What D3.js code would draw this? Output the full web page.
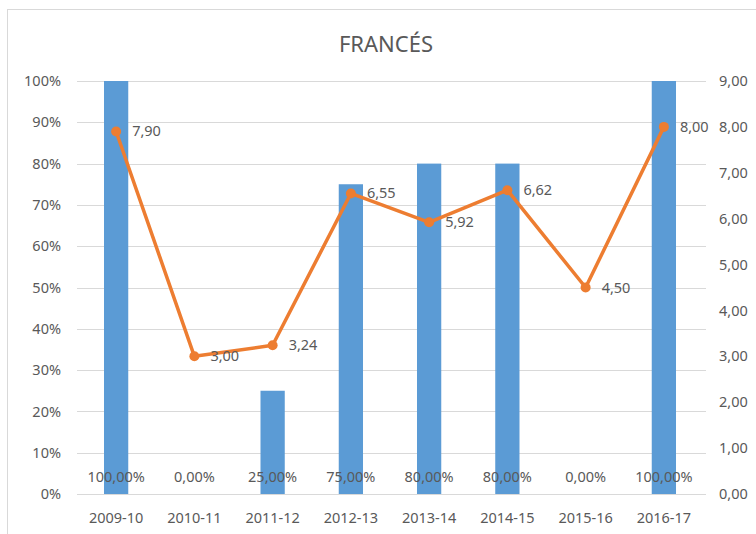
<!DOCTYPE html>
<html><head><meta charset="utf-8">
<script src="https://cdn.jsdelivr.net/npm/d3@7/dist/d3.min.js"></script>
<style>body{margin:0;background:#fff}svg{display:block}text{font-family:"Noto Sans","Open Sans",sans-serif;fill:#595959}</style>
</head><body><svg id="c" width="756" height="534"></svg>
<script>
const categories = ["2009-10","2010-11","2011-12","2012-13","2013-14","2014-15","2015-16","2016-17"];
const barValues = [1.00,0.00,0.25,0.75,0.80,0.80,0.00,1.00];
const lineValues = [7.90,3.00,3.24,6.55,5.92,6.62,4.50,8.00];
const leftTicks = [0,0.1,0.2,0.3,0.4,0.5,0.6,0.7,0.8,0.9,1.0];
const rightTicks = [0,1,2,3,4,5,6,7,8,9];
const title = "FRANCÉS";

const svg = d3.select("#c");
svg.append("rect").attr("x",7.5).attr("y",9.5).attr("width",760).attr("height",540)
  .attr("fill","#fff").attr("stroke","#d9d9d9");

const L=77,R=703,T=81,B=494;
const FS="14.5px";
const x = d3.scaleBand().domain(categories).range([L,R]).paddingInner(0.69).paddingOuter(0.345);
const xc = d3.scaleBand().domain(categories).range([L,R]);
const yL = d3.scaleLinear().domain([0,1]).range([B,T]);
const yR = d3.scaleLinear().domain([0,9]).range([B,T]);
const fmt2 = v => v.toFixed(2).replace(".",",");

svg.append("text").attr("x",386).attr("y",52).attr("text-anchor","middle")
  .style("font-size","22px").text(title);

// gridlines
svg.append("g").selectAll("line").data(leftTicks).join("line")
  .attr("x1",L).attr("x2",R+3).attr("y1",d=>Math.round(yL(d))+0.5).attr("y2",d=>Math.round(yL(d))+0.5)
  .attr("stroke","#d9d9d9").attr("stroke-width",1);

// left axis
const ga = svg.append("g").attr("transform",`translate(${L},0)`)
  .call(d3.axisLeft(yL).tickValues(leftTicks).tickFormat(d3.format(".0%")).tickSize(0).tickPadding(16));
ga.select(".domain").remove();
ga.selectAll("text").style("font-size",FS).attr("fill","#595959");

// right axis
const gr = svg.append("g").attr("transform",`translate(${R},0)`)
  .call(d3.axisRight(yR).tickValues(rightTicks).tickFormat(fmt2).tickSize(0).tickPadding(16));
gr.select(".domain").remove();
gr.selectAll("text").style("font-size",FS).attr("fill","#595959");

// bottom axis
const gb = svg.append("g").attr("transform",`translate(0,${B})`)
  .call(d3.axisBottom(xc).tickSize(0).tickPadding(19));
gb.select(".domain").remove();
gb.selectAll("text").style("font-size",FS).attr("fill","#595959");

// bars
svg.append("g").selectAll("rect").data(categories).join("rect")
  .attr("x",d=>x(d)).attr("width",x.bandwidth())
  .attr("y",(d,i)=>yL(barValues[i])).attr("height",(d,i)=>B-yL(barValues[i]))
  .attr("fill","#5B9BD5");

// bar labels
svg.append("g").selectAll("text").data(categories).join("text")
  .attr("x",d=>xc(d)+xc.bandwidth()/2).attr("y",482).attr("text-anchor","middle")
  .style("font-size",FS).text((d,i)=>fmt2(barValues[i]*100)+"%");

// line
const cx = d=>xc(d)+xc.bandwidth()/2;
const line = d3.line().x((d,i)=>cx(categories[i])).y(d=>yR(d));
svg.append("path").datum(lineValues).attr("d",line).attr("fill","none")
  .attr("stroke","#ED7D31").attr("stroke-width",3.5).attr("stroke-linejoin","round");
svg.append("g").selectAll("circle").data(lineValues).join("circle")
  .attr("cx",(d,i)=>cx(categories[i])).attr("cy",d=>yR(d)).attr("r",5).attr("fill","#ED7D31");
svg.append("g").selectAll("text").data(lineValues).join("text")
  .attr("x",(d,i)=>cx(categories[i])+16).attr("y",d=>yR(d)+5)
  .style("font-size",FS).text(d=>fmt2(d));
</script></body></html>
